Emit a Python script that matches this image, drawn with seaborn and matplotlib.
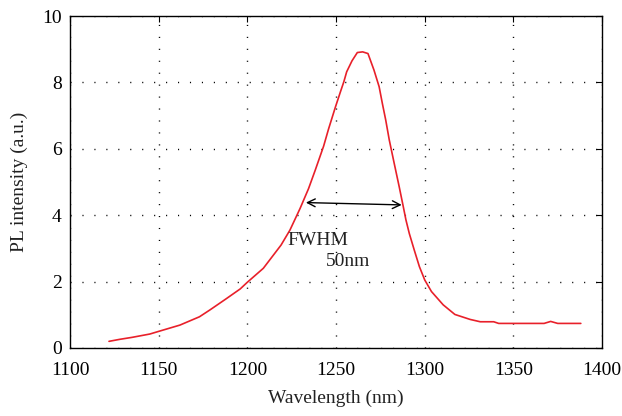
import matplotlib
matplotlib.use("Agg")
import matplotlib.pyplot as plt
import seaborn as sns
import pandas as pd

wavelength = [1122, 1128, 1135, 1145, 1150, 1162, 1173, 1179, 1188, 1196, 1200,
              1209, 1219, 1224, 1229.7, 1234.5, 1238.3, 1243, 1245.8, 1249.6,
              1252.5, 1254.4, 1256, 1259, 1262, 1265, 1268, 1271.4, 1274.3,
              1276.1, 1278, 1280, 1282.8, 1285.6, 1287.9, 1289.4, 1291.3,
              1294.1, 1297, 1300, 1303.8, 1310.4, 1317, 1325.6, 1331.3, 1338.9,
              1341.7, 1367.3, 1371, 1375, 1388]
intensity = [0.20, 0.26, 0.32, 0.42, 0.50, 0.69, 0.94, 1.15, 1.48, 1.78, 1.98,
             2.40, 3.10, 3.55, 4.20, 4.80, 5.36, 6.08, 6.60, 7.25,
             7.72, 8.02, 8.32, 8.65, 8.90, 8.92, 8.87, 8.37, 7.87,
             7.37, 6.87, 6.27, 5.56, 4.86, 4.26, 3.86, 3.45,
             2.95, 2.45, 2.05, 1.70, 1.30, 1.01, 0.86, 0.79, 0.79,
             0.74, 0.74, 0.80, 0.74, 0.74]

x_ticks = [1100, 1150, 1200, 1250, 1300, 1350, 1400]
y_ticks = [0, 2, 4, 6, 8, 10]
arrow_x = [1233, 1287]
arrow_y = [4.38, 4.31]

sns.set_theme(style="white")
plt.rcParams['font.family'] = ['Liberation Serif', 'DejaVu Serif']

df = pd.DataFrame({"Wavelength": wavelength, "PL": intensity})

fig = plt.figure(figsize=(6.22, 4.16), dpi=100)
ax = fig.add_axes([0.1125, 0.1635, 0.8555, 0.798])

sns.lineplot(data=df, x="Wavelength", y="PL", ax=ax, color="#e8202a",
             linewidth=1.2, estimator=None, sort=False)

ax.set_xlim(1100, 1400)
ax.set_ylim(0, 10)
ax.set_xticks(x_ticks)
ax.set_yticks(y_ticks)
ax.grid(True, color="black", linestyle=(0, (0.8, 7.8)), linewidth=1.0)
for s in ax.spines.values():
    s.set_color("black")
    s.set_linewidth(1.0)
ax.tick_params(direction="in", length=4, width=0.8, top=True, right=True,
               labelsize=14, colors="black")
ax.tick_params(axis="x", pad=10)
ax.tick_params(axis="y", pad=6)
ax.set_xlabel("Wavelength (nm)", fontsize=14, color="#222222", labelpad=8)
ax.set_ylabel("PL intensity (a.u.)", fontsize=14, color="#222222", labelpad=10)

ax.annotate("", xy=(arrow_x[0], arrow_y[0]), xytext=(arrow_x[1], arrow_y[1]),
            arrowprops=dict(arrowstyle="<->", color="black", lw=1.0,
                            mutation_scale=14, shrinkA=0, shrinkB=0))
ax.text(1240, 3.25, "FWHM", fontsize=14, ha="center", va="center", color="#222222")
ax.text(1257, 2.6, "50nm", fontsize=14, ha="center", va="center", color="#222222")

fig.savefig("out.png", dpi=100)
